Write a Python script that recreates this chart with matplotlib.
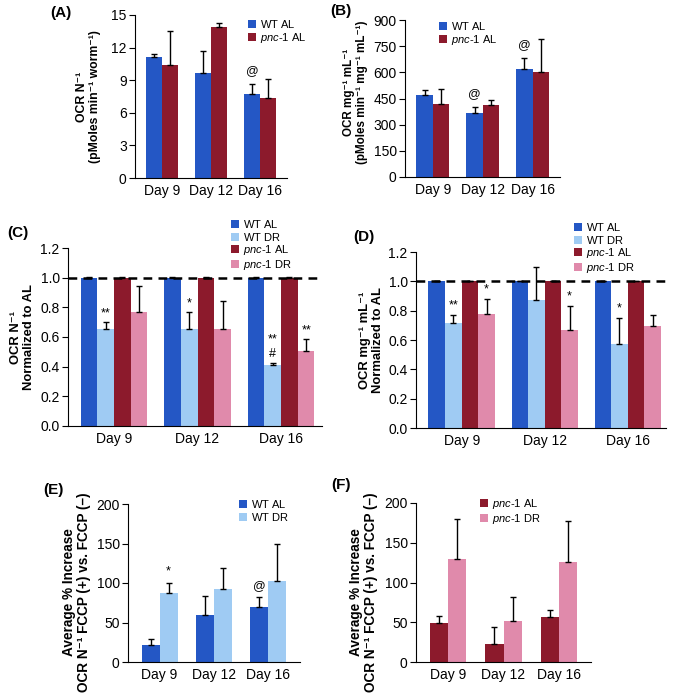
import numpy as np
import matplotlib
matplotlib.use("Agg")
import matplotlib.pyplot as plt

plt.rcParams['font.family'] = ['Liberation Sans', 'DejaVu Sans']
plt.rcParams['mathtext.fontset'] = 'custom'
plt.rcParams['mathtext.rm'] = 'Liberation Sans'
plt.rcParams['mathtext.it'] = 'Liberation Sans:italic'

days = ['Day 9', 'Day 12', 'Day 16']

# (A) OCR per worm
a_wt_al = [11.1, 9.7, 7.7]
a_wt_al_err = [0.3, 2.0, 0.95]
a_pnc_al = [10.4, 13.85, 7.4]
a_pnc_al_err = [3.1, 0.4, 1.7]

# (B) OCR per mg protein
b_wt_al = [469, 368, 617]
b_wt_al_err = [29, 34, 67]
b_pnc_al = [418, 412, 603]
b_pnc_al_err = [86, 27, 186]

# (C) normalized OCR per worm
c_wt_al = [1.0, 1.0, 1.0]
c_wt_dr = [0.655, 0.652, 0.41]
c_wt_dr_err = [0.045, 0.118, 0.017]
c_pnc_al = [1.0, 1.0, 1.0]
c_pnc_dr = [0.77, 0.655, 0.508]
c_pnc_dr_err = [0.176, 0.189, 0.077]

# (D) normalized OCR per mg protein
d_wt_al = [1.0, 1.0, 1.0]
d_wt_dr = [0.716, 0.87, 0.575]
d_wt_dr_err = [0.057, 0.228, 0.177]
d_pnc_al = [1.0, 1.0, 1.0]
d_pnc_dr = [0.78, 0.67, 0.698]
d_pnc_dr_err = [0.102, 0.164, 0.075]
al_err = [0.004, 0.004, 0.004]

# (E) FCCP increase, WT
e_wt_al = [22, 60, 69]
e_wt_al_err = [7.6, 23, 13]
e_wt_dr = [87.5, 91.8, 102]
e_wt_dr_err = [13, 27, 47]

# (F) FCCP increase, pnc-1
f_pnc_al = [48.5, 23, 57]
f_pnc_al_err = [9.3, 20.5, 8]
f_pnc_dr = [129.5, 51.5, 126]
f_pnc_dr_err = [50.5, 30.5, 51]

WT_AL = '#2457C5'
WT_DR = '#9FCBF3'
PNC_AL = '#8C1A2C'
PNC_DR = '#E08AAB'

# all labels as mathtext so legend rows get the same height
lab_wt_al = r'$\mathrm{WT\ AL}$'
lab_wt_dr = r'$\mathrm{WT\ DR}$'
lab_pnc_al = r'$\mathit{pnc}$-$\mathit{1}$ AL'
lab_pnc_dr = r'$\mathit{pnc}$-$\mathit{1}$ DR'

W, H = 676, 693
fig = plt.figure(figsize=(W / 100, H / 100), dpi=100)


def make_ax(left, right, top, bottom):
    return fig.add_axes([left / W, 1 - bottom / H, (right - left) / W, (bottom - top) / H])


def draw_bars(ax, series, errs, colors, labels, width):
    x = np.arange(len(days))
    n = len(series)
    pos_list = []
    for i in range(n):
        pos = x + (i - (n - 1) / 2) * width
        ax.bar(pos, series[i], width, color=colors[i], label=labels[i],
               yerr=[np.zeros(len(days)), errs[i]],
               error_kw=dict(ecolor='black', elinewidth=1, capsize=2.5, capthick=1))
        pos_list.append(pos)
    ax.set_xticks(x)
    ax.set_xticklabels(days)
    return pos_list


def style(ax, ylim, yticks, fmt, ylabel, label_px, left, right, fs, ly=0.5):
    ax.set_ylim(*ylim)
    ax.set_yticks(yticks)
    ax.set_yticklabels([fmt.format(t) for t in yticks])
    ax.spines['top'].set_visible(False)
    ax.spines['right'].set_visible(False)
    ax.tick_params(axis='x', length=0, labelsize=10, pad=4)
    ax.tick_params(axis='y', direction='out', length=4, labelsize=10, pad=2)
    ax.set_ylabel(ylabel, fontsize=fs, fontweight='bold', linespacing=1.1)
    ax.yaxis.set_label_coords((label_px - left) / (right - left), ly)


def legend(ax, x_px, y_px):
    ax.legend(loc='upper left', bbox_to_anchor=(x_px / W, 1 - y_px / H),
              bbox_transform=fig.transFigure, frameon=False, fontsize=8,
              handlelength=0.7, handleheight=0.7, handletextpad=0.4,
              labelspacing=0.05, borderpad=0, borderaxespad=0)


def mark(ax, xs, tops, errs, idx, txt, off=2):
    ax.annotate(txt, (xs[idx], tops[idx] + errs[idx]), xytext=(0, off),
                textcoords='offset points', ha='center', va='bottom',
                fontsize=9, linespacing=1.3)


# (A)
L, R = 135, 287
ax = make_ax(L, R, 15, 178)
p = draw_bars(ax, [a_wt_al, a_pnc_al], [a_wt_al_err, a_pnc_al_err],
              [WT_AL, PNC_AL], [lab_wt_al, lab_pnc_al], 0.33)
ax.set_xlim(-0.56, 2.55)
style(ax, (0, 15), [0, 3, 6, 9, 12, 15], '{:g}',
      'OCR N⁻¹\n(pMoles min⁻¹ worm⁻¹)', 101, L, R, 8.8)
legend(ax, 248, 18)
mark(ax, p[0], a_wt_al, a_wt_al_err, 2, '@', 5)

# (B)
L, R = 405, 560
ax = make_ax(L, R, 20, 177)
p = draw_bars(ax, [b_wt_al, b_pnc_al], [b_wt_al_err, b_pnc_al_err],
              [WT_AL, PNC_AL], [lab_wt_al, lab_pnc_al], 0.33)
ax.set_xlim(-0.56, 2.55)
style(ax, (0, 900), [0, 150, 300, 450, 600, 750, 900], '{:g}',
      'OCR mg⁻¹ mL⁻¹\n(pMoles min⁻¹ mg⁻¹ mL⁻¹)', 368, L, R, 8.4, 0.54)
legend(ax, 439, 20)
mark(ax, p[0], b_wt_al, b_wt_al_err, 1, '@', 5)
mark(ax, p[0], b_wt_al, b_wt_al_err, 2, '@', 5)

# (C)
L, R = 68, 322
ax = make_ax(L, R, 248, 426)
p = draw_bars(ax, [c_wt_al, c_wt_dr, c_pnc_al, c_pnc_dr],
              [al_err, c_wt_dr_err, al_err, c_pnc_dr_err],
              [WT_AL, WT_DR, PNC_AL, PNC_DR],
              [lab_wt_al, lab_wt_dr, lab_pnc_al, lab_pnc_dr], 0.2)
ax.set_xlim(-0.55, 2.49)
ax.axhline(1.0, color='black', lw=1.8, ls=(0, (3.5, 2.5)), zorder=5)
style(ax, (0, 1.2), [0, 0.2, 0.4, 0.6, 0.8, 1.0, 1.2], '{:.1f}',
      'OCR N⁻¹\nNormalized to AL', 35, L, R, 9.4)
legend(ax, 231, 218)
mark(ax, p[1], c_wt_dr, c_wt_dr_err, 0, '**')
mark(ax, p[1], c_wt_dr, c_wt_dr_err, 1, '*')
mark(ax, p[1], c_wt_dr, c_wt_dr_err, 2, '**\n#')
mark(ax, p[3], c_pnc_dr, c_pnc_dr_err, 2, '**')

# (D)
L, R = 416, 666
ax = make_ax(L, R, 252, 428)
p = draw_bars(ax, [d_wt_al, d_wt_dr, d_pnc_al, d_pnc_dr],
              [al_err, d_wt_dr_err, al_err, d_pnc_dr_err],
              [WT_AL, WT_DR, PNC_AL, PNC_DR],
              [lab_wt_al, lab_wt_dr, lab_pnc_al, lab_pnc_dr], 0.2)
ax.set_xlim(-0.55, 2.46)
ax.axhline(1.0, color='black', lw=1.8, ls=(0, (3.5, 2.5)), zorder=5)
style(ax, (0, 1.2), [0, 0.2, 0.4, 0.6, 0.8, 1.0, 1.2], '{:.1f}',
      'OCR mg⁻¹ mL⁻¹\nNormalized to AL', 384, L, R, 9.4)
legend(ax, 574, 221)
mark(ax, p[1], d_wt_dr, d_wt_dr_err, 0, '**')
mark(ax, p[3], d_pnc_dr, d_pnc_dr_err, 0, '*')
mark(ax, p[3], d_pnc_dr, d_pnc_dr_err, 1, '*')
mark(ax, p[1], d_wt_dr, d_wt_dr_err, 2, '*')

# (E)
L, R = 128, 300
ax = make_ax(L, R, 504, 662)
p = draw_bars(ax, [e_wt_al, e_wt_dr], [e_wt_al_err, e_wt_dr_err],
              [WT_AL, WT_DR], [lab_wt_al, lab_wt_dr], 0.33)
ax.set_xlim(-0.58, 2.58)
style(ax, (0, 200), [0, 50, 100, 150, 200], '{:g}',
      'Average % Increase\nOCR N⁻¹ FCCP (+) vs. FCCP (–)', 91, L, R, 9.8, 0.44)
legend(ax, 239, 498)
mark(ax, p[1], e_wt_dr, e_wt_dr_err, 0, '*', 4)
mark(ax, p[0], e_wt_al, e_wt_al_err, 2, '@', 4)

# (F)
L, R = 416, 591
ax = make_ax(L, R, 503, 662)
p = draw_bars(ax, [f_pnc_al, f_pnc_dr], [f_pnc_al_err, f_pnc_dr_err],
              [PNC_AL, PNC_DR], [lab_pnc_al, lab_pnc_dr], 0.33)
ax.set_xlim(-0.58, 2.58)
style(ax, (0, 200), [0, 50, 100, 150, 200], '{:g}',
      'Average % Increase\nOCR N⁻¹ FCCP (+) vs. FCCP (–)', 378, L, R, 9.8, 0.44)
legend(ax, 480, 497)

# panel letters
for txt, x, y in [('(A)', 50, 13), ('(B)', 330, 11), ('(C)', 7, 233),
                  ('(D)', 353, 237), ('(E)', 43, 490), ('(F)', 331, 485)]:
    fig.text(x / W, 1 - y / H, txt, fontsize=11, fontweight='bold',
             ha='left', va='center')

fig.savefig('out.png', dpi=100)
